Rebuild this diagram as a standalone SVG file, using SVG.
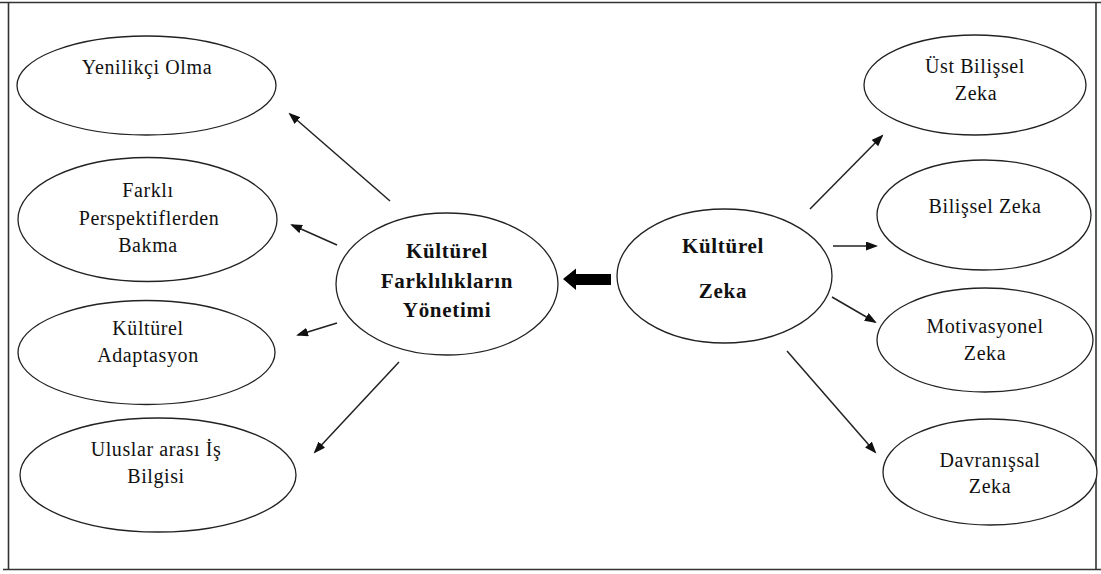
<svg xmlns="http://www.w3.org/2000/svg" width="1101" height="574" viewBox="0 0 1101 574">
  <style>
    .frame { fill: none; stroke: #333; stroke-width: 1.6; }
    .node ellipse { fill: #fff; stroke: #222; stroke-width: 1.3; }
    .node text { font-family: 'Liberation Serif', 'DejaVu Serif', serif; font-size: 20px; letter-spacing: 0.6px; fill: #111; text-anchor: middle; }
    .node.main text { font-weight: bold; font-size: 21px; letter-spacing: 0.7px; }
    .link { stroke: #222; stroke-width: 1.5; fill: none; marker-end: url(#head); }
    .big { fill: #000; }
  </style>
  <defs>
    <marker id="head" markerUnits="userSpaceOnUse" markerWidth="14" markerHeight="11" refX="10" refY="4.5" orient="auto">
      <path d="M0,0 L12,4.5 L0,9 Z" fill="#111"/>
    </marker>
  </defs>

  <rect x="0" y="0" width="1101" height="574" fill="#fff"/>

  <!-- outer frame -->
  <g id="frame">
    <line class="frame" x1="0" y1="2.5" x2="1101" y2="2.5"/>
    <line class="frame" x1="8.5" y1="2.5" x2="8.5" y2="569"/>
    <line class="frame" x1="1096" y1="2.5" x2="1096" y2="569"/>
    <line class="frame" x1="3" y1="569.5" x2="1101" y2="569.5"/>
  </g>

  <!-- connectors -->
  <g id="connectors">
    <line class="link" x1="390" y1="201" x2="290" y2="114"/>
    <line class="link" x1="337" y1="245" x2="292" y2="225"/>
    <line class="link" x1="337" y1="323" x2="298" y2="335"/>
    <line class="link" x1="399" y1="362" x2="315" y2="452"/>
    <line class="link" x1="810" y1="209" x2="882" y2="136"/>
    <line class="link" x1="833" y1="246" x2="876" y2="246"/>
    <line class="link" x1="832" y1="297" x2="875" y2="322"/>
    <line class="link" x1="787" y1="351" x2="875" y2="452"/>
    <polygon class="big" points="563,279 576,268.5 576,274 611,274 611,285 576,285 576,290"/>
  </g>

  <!-- left column -->
  <g id="yenilikci" class="node">
    <ellipse cx="146.5" cy="85.5" rx="129.5" ry="49.5"/>
    <text x="147" y="74">Yenilikçi Olma</text>
  </g>
  <g id="farkli-perspektif" class="node">
    <ellipse cx="147.5" cy="219.5" rx="129.5" ry="62"/>
    <text x="148" y="197">Farklı</text>
    <text x="149" y="225">Perspektiflerden</text>
    <text x="148" y="252">Bakma</text>
  </g>
  <g id="adaptasyon" class="node">
    <ellipse cx="146.5" cy="352.5" rx="128.5" ry="52"/>
    <text x="148" y="335">Kültürel</text>
    <text x="148" y="362">Adaptasyon</text>
  </g>
  <g id="is-bilgisi" class="node">
    <ellipse cx="158" cy="475" rx="138" ry="57"/>
    <text x="156" y="456">Uluslar arası İş</text>
    <text x="156" y="483">Bilgisi</text>
  </g>

  <!-- centre -->
  <g id="farkliliklar-yonetimi" class="node main">
    <ellipse cx="447" cy="284" rx="111" ry="71"/>
    <text x="447" y="258">Kültürel</text>
    <text x="447" y="288">Farklılıkların</text>
    <text x="447" y="317">Yönetimi</text>
  </g>
  <g id="kulturel-zeka" class="node main">
    <ellipse cx="724.5" cy="276" rx="107.5" ry="67"/>
    <text x="723" y="253">Kültürel</text>
    <text x="723" y="298">Zeka</text>
  </g>

  <!-- right column -->
  <g id="ust-bilissel" class="node">
    <ellipse cx="975" cy="85" rx="111" ry="50"/>
    <text x="975" y="73">Üst Bilişsel</text>
    <text x="976" y="100">Zeka</text>
  </g>
  <g id="bilissel" class="node">
    <ellipse cx="984" cy="215" rx="107" ry="55"/>
    <text x="985" y="213">Bilişsel Zeka</text>
  </g>
  <g id="motivasyonel" class="node">
    <ellipse cx="985" cy="340" rx="108" ry="52"/>
    <text x="985" y="333">Motivasyonel</text>
    <text x="985" y="360">Zeka</text>
  </g>
  <g id="davranissal" class="node">
    <ellipse cx="990" cy="472" rx="107" ry="53"/>
    <text x="990" y="467">Davranışsal</text>
    <text x="990" y="493">Zeka</text>
  </g>
</svg>
